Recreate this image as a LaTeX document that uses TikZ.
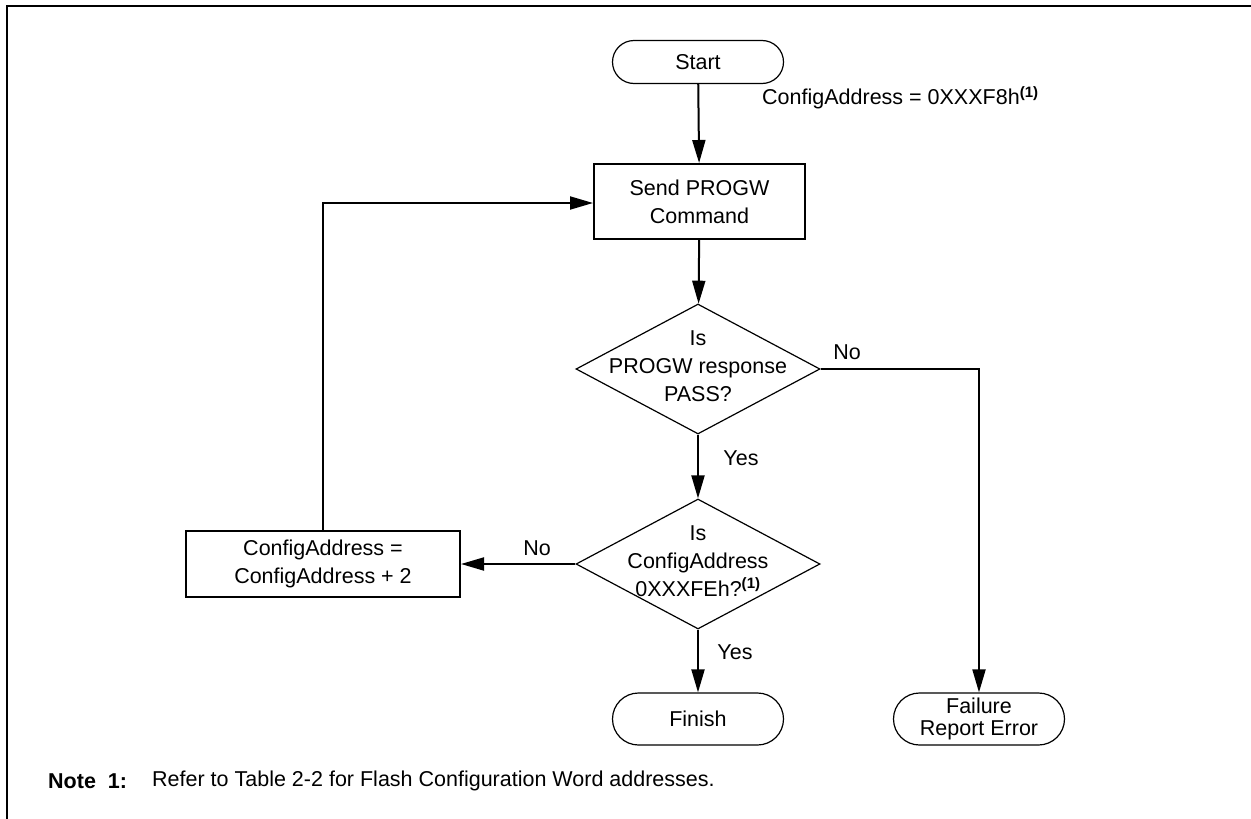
\documentclass[tikz,border=0pt]{standalone}
\usepackage{fontspec}
\setmainfont{Liberation Sans}
\usetikzlibrary{shapes.geometric,shapes.misc,arrows.meta}
\begin{document}
\begin{tikzpicture}[x=1pt,y=-1pt,
  font=\fontsize{21.5}{28}\selectfont,
  term/.style={draw,rounded rectangle,line width=1.2pt,minimum width=171pt,minimum height=43pt,inner sep=0pt,align=center,font=\fontsize{21.5}{22}\selectfont},
  proc/.style={draw,rectangle,line width=2pt,inner sep=0pt,align=center},
  dec/.style={draw,diamond,line width=1.2pt,minimum width=244pt,minimum height=130pt,inner sep=0pt},
  dectext/.style={align=center,inner sep=0pt,yshift=3pt},
  flow/.style={line width=2pt,-{Triangle[length=23pt,width=13pt]}},
  lbl/.style={inner sep=0pt}]
\useasboundingbox (0,0) rectangle (1251,819);
\draw[line width=2.5pt] (1251,6) -- (7,6) -- (7,819);

\node[term] (start) at (698,62) {Start};
\node[proc,minimum width=211pt,minimum height=75pt] (send) at (699.5,201.5) {Send PROGW\\Command};
\node[dec,label={[dectext]center:Is\\PROGW response\\PASS?}] (d1) at (698,369) {};
\node[dec,label={[dectext]center:Is\\ConfigAddress\\0XXXFEh?\textsuperscript{\textbf{(1)}}}] (d2) at (698,564) {};
\node[proc,minimum width=274pt,minimum height=66pt] (cfg) at (323,564) {ConfigAddress =\\ConfigAddress + 2};
\node[term,minimum height=52pt] (finish) at (698,719) {Finish};
\node[term,minimum height=52pt] (fail) at (979,719) {Failure\\Report Error};

\node[lbl,anchor=west] (addr) at (762,98) {ConfigAddress = 0XXXF8h\textsuperscript{\textbf{(1)}}};
\node[lbl] (no1) at (847,352) {No};
\node[lbl] (yes1) at (741,458) {Yes};
\node[lbl] (no2) at (537,548) {No};
\node[lbl] (yes2) at (735,652) {Yes};

\coordinate (c1) at (979,369);
\coordinate (c2) at (323,203);

\draw[flow] (start) -- (send);
\draw[flow] (send) -- (d1);
\draw[flow] (d1) -- (d2);
\draw[flow] (d1.east) -- (c1) -- (fail);
\draw[flow] (d2.west) -- (cfg.east);
\draw[flow] (d2) -- (finish);
\draw[flow] (cfg.north) -- (c2) -- (send.west|-c2);

\node[lbl,anchor=west] (note) at (48,781) {\textbf{Note\ \ 1:}};
\node[lbl,anchor=west] (notetxt) at (152,781) {Refer to Table 2-2 for Flash Configuration Word addresses.};
\end{tikzpicture}
\end{document}
